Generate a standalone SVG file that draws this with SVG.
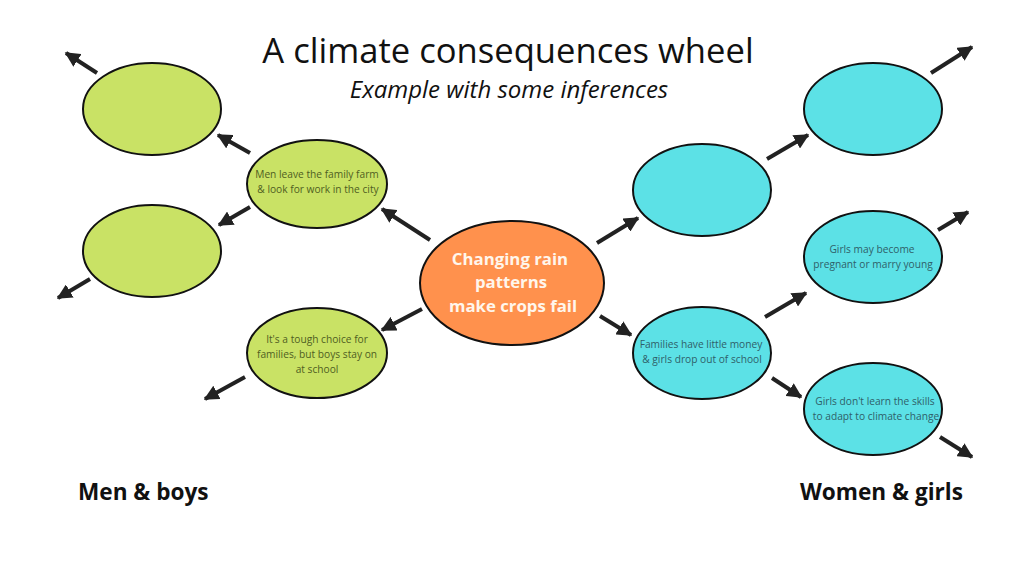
<svg xmlns="http://www.w3.org/2000/svg" width="1024" height="576" viewBox="0 0 1024 576">
<defs>
<marker id="ah" viewBox="0 0 10 10" refX="9" refY="5" markerWidth="3.8" markerHeight="3.8" orient="auto" markerUnits="strokeWidth">
<path d="M0,0 L10,5 L0,10 z" fill="#222"/>
</marker>
</defs>
<style>
.g{fill:#c9e265;stroke:#111;stroke-width:2}
.c{fill:#5ce1e6;stroke:#111;stroke-width:2}
.o{fill:#ff914d;stroke:#111;stroke-width:2}
.tg{font-family:"Open Sans","Noto Sans",sans-serif;font-size:10.2px;fill:#4f5e22;text-anchor:middle}
.tc{font-family:"Open Sans","Noto Sans",sans-serif;font-size:10.2px;fill:#2f5f69;text-anchor:middle}
.tm{font-family:"Open Sans","Noto Sans",sans-serif;font-size:16.8px;font-weight:bold;fill:#fff6ec;text-anchor:middle}
.hd{font-family:"Open Sans","Noto Sans",sans-serif;font-size:22.6px;font-weight:bold;fill:#111}
.arr line{stroke:#222;stroke-width:4;marker-end:url(#ah)}
</style>
<rect width="1024" height="576" fill="#fff"/>
<text x="508" y="63" font-family="Open Sans, Noto Sans, sans-serif" font-size="34.6" fill="#111" text-anchor="middle">A climate consequences wheel</text>
<text x="509" y="98" font-family="Open Sans, Noto Sans, sans-serif" font-size="24" font-style="italic" fill="#111" text-anchor="middle">Example with some inferences</text>
<text class="hd" x="78" y="500">Men &amp; boys</text>
<text class="hd" x="800" y="500">Women &amp; girls</text>
<g id="connectors" class="arr">
<line x1="97" y1="73" x2="66" y2="53"/>
<line x1="250" y1="153" x2="218" y2="135"/>
<line x1="250" y1="207" x2="219" y2="225"/>
<line x1="90" y1="279" x2="58" y2="298"/>
<line x1="245" y1="377" x2="205" y2="399"/>
<line x1="430" y1="240" x2="382" y2="209"/>
<line x1="422" y1="309" x2="382" y2="330"/>
<line x1="597" y1="243" x2="638" y2="218"/>
<line x1="767" y1="159" x2="808" y2="135"/>
<line x1="931" y1="73" x2="972" y2="47"/>
<line x1="938" y1="230" x2="968" y2="212"/>
<line x1="600" y1="316" x2="631" y2="335"/>
<line x1="765" y1="317" x2="806" y2="293"/>
<line x1="772" y1="378" x2="801" y2="397"/>
<line x1="940" y1="437" x2="972" y2="457"/>
</g>
<g id="n-left-top"><ellipse class="g" cx="152" cy="109" rx="69" ry="46"/></g>
<g id="n-left-bottom"><ellipse class="g" cx="152" cy="251" rx="69" ry="46"/></g>
<g id="n-men-leave"><ellipse class="g" cx="317" cy="184" rx="70" ry="44"/>
<text class="tg" x="317" y="178">Men leave the family farm</text>
<text class="tg" x="318" y="193">&amp; look for work in the city</text></g>
<g id="n-tough"><ellipse class="g" cx="317" cy="353" rx="70" ry="45"/>
<text class="tg" x="317" y="343">It's a tough choice for</text>
<text class="tg" x="317" y="358">families, but boys stay on</text>
<text class="tg" x="317" y="373">at school</text></g>
<g id="n-center"><ellipse class="o" cx="512" cy="283" rx="92" ry="62"/>
<text class="tm" x="510" y="265">Changing rain</text>
<text class="tm" x="511" y="288">patterns</text>
<text class="tm" x="513" y="312">make crops fail</text></g>
<g id="n-right-mid"><ellipse class="c" cx="702" cy="190" rx="69" ry="46"/></g>
<g id="n-right-top"><ellipse class="c" cx="873" cy="109" rx="69" ry="46"/></g>
<g id="n-families"><ellipse class="c" cx="702" cy="353" rx="69" ry="46"/>
<text class="tc" x="701" y="348">Families have little money</text>
<text class="tc" x="702" y="363">&amp; girls drop out of school</text></g>
<g id="n-girls-may"><ellipse class="c" cx="873" cy="257" rx="69" ry="46"/>
<text class="tc" x="872" y="253">Girls may become</text>
<text class="tc" x="873" y="268">pregnant or marry young</text></g>
<g id="n-girls-dont"><ellipse class="c" cx="873" cy="409" rx="69" ry="46"/>
<text class="tc" x="875" y="405">Girls don't learn the skills</text>
<text class="tc" x="876" y="420">to adapt to climate change</text></g>
</svg>
